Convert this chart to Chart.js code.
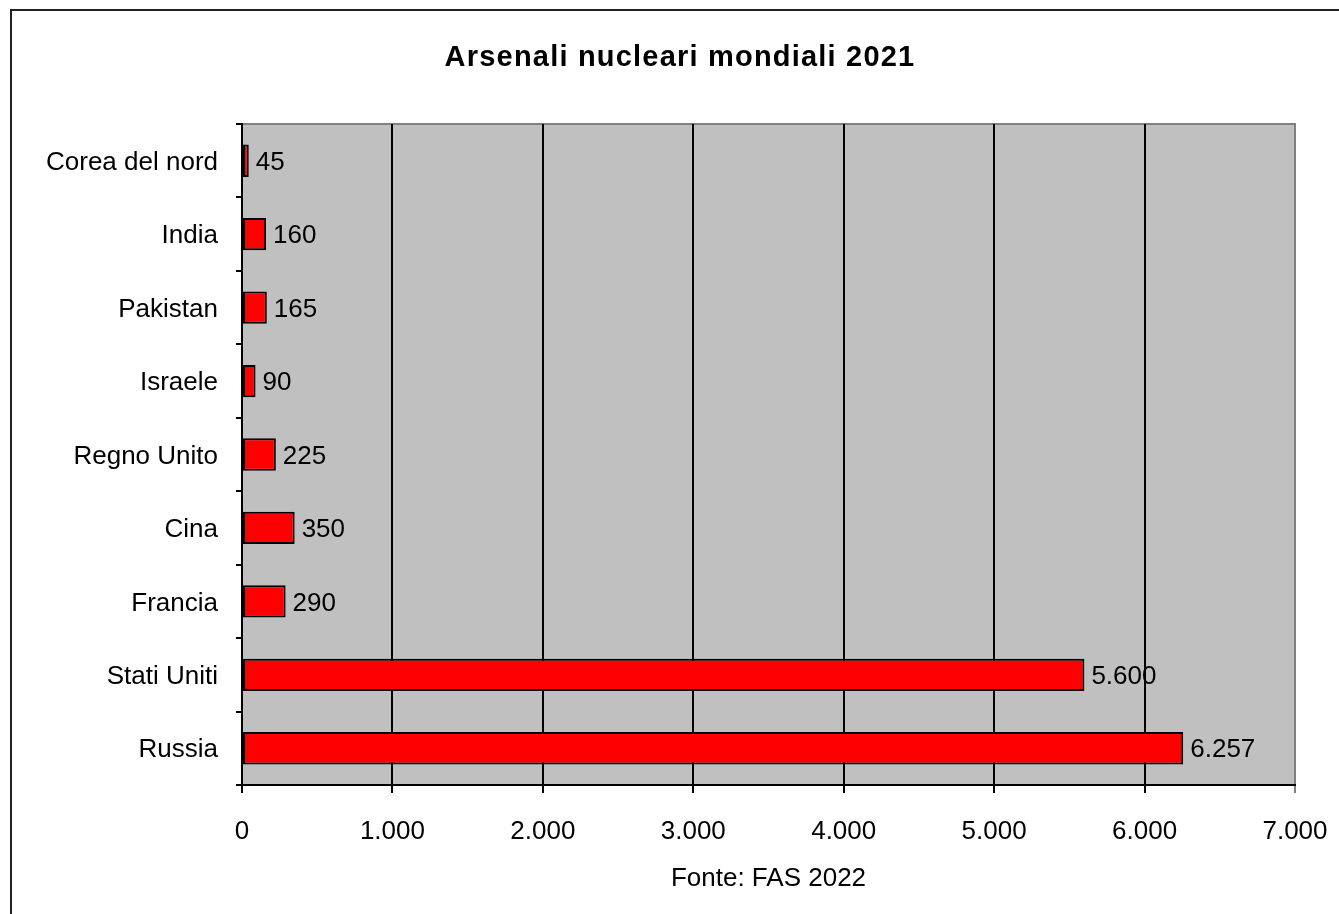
<!DOCTYPE html>
<html>
<head>
<meta charset="utf-8">
<script src="https://cdn.jsdelivr.net/npm/chart.js@4/dist/chart.umd.min.js"></script>
<style>
html,body{margin:0;padding:0;background:#fff;}
canvas{display:block;}
</style>
</head>
<body>
<canvas id="c" width="1339" height="914"></canvas>
<script>
const chartTitle = 'Arsenali nucleari mondiali 2021';
const sourceLabel = 'Fonte: FAS 2022';
const categories = ['Corea del nord','India','Pakistan','Israele','Regno Unito','Cina','Francia','Stati Uniti','Russia'];
const warheads = [45, 160, 165, 90, 225, 350, 290, 5600, 6257];
const axisMin = 0;
const axisMax = 7000;
const axisStep = 1000;

const FONT = "'Liberation Sans', Arial, sans-serif";
const FS = 26;

function fmt(v){
  return String(Math.round(v)).replace(/\B(?=(\d{3})+(?!\d))/g, '.');
}

const decor = {
  id: 'decor',
  beforeDraw(chart){
    const ctx = chart.ctx, a = chart.chartArea;
    ctx.save();
    ctx.fillStyle = '#fff';
    ctx.fillRect(0,0,chart.width,chart.height);
    // outer border
    ctx.strokeStyle = '#222';
    ctx.lineWidth = 2;
    ctx.strokeRect(11,10,1400,1000);
    // plot area
    ctx.fillStyle = '#C0C0C0';
    ctx.fillRect(a.left, a.top, a.right-a.left, a.bottom-a.top);
    ctx.strokeStyle = '#808080';
    ctx.lineWidth = 2;
    ctx.beginPath();
    ctx.moveTo(a.left, a.top); ctx.lineTo(a.right, a.top); ctx.lineTo(a.right, a.bottom);
    ctx.stroke();
    // title
    ctx.fillStyle = '#000';
    ctx.font = 'bold 29px ' + FONT;
    if ('letterSpacing' in ctx) ctx.letterSpacing = '1.2px';
    ctx.textAlign = 'center';
    ctx.textBaseline = 'middle';
    ctx.fillText(chartTitle, 680, 58);
    if ('letterSpacing' in ctx) ctx.letterSpacing = '0px';
    // source label
    ctx.font = FS + 'px ' + FONT;
    ctx.fillText(sourceLabel, (a.left + a.right)/2, 879);
    ctx.restore();
  },
  afterDatasetsDraw(chart){
    const ctx = chart.ctx;
    const meta = chart.getDatasetMeta(0);
    ctx.save();
    ctx.fillStyle = '#000';
    ctx.font = FS + 'px ' + FONT;
    ctx.textAlign = 'left';
    ctx.textBaseline = 'middle';
    meta.data.forEach((bar, i) => {
      ctx.fillText(fmt(warheads[i]), bar.x + 7, bar.y + 2);
    });
    ctx.restore();
  }
};

new Chart(document.getElementById('c'), {
  type: 'bar',
  data: {
    labels: categories,
    datasets: [{
      data: warheads,
      backgroundColor: '#FF0000',
      borderColor: '#000',
      borderWidth: 2,
      borderSkipped: false,
      categoryPercentage: 1,
      barPercentage: 0.44
    }]
  },
  options: {
    indexAxis: 'y',
    responsive: false,
    devicePixelRatio: 1,
    animation: false,
    layout: { padding: { top: 124, right: 44, left: 0, bottom: 0 } },
    plugins: { legend: { display: false }, tooltip: { enabled: false }, title: { display: false } },
    scales: {
      x: {
        min: axisMin, max: axisMax,
        afterFit(s){ s.height = 129; s.paddingRight = 0; s.paddingLeft = 0; },
        ticks: { stepSize: axisStep, color: '#000', font: { family: FONT, size: FS }, padding: 23, callback: v => fmt(v), maxRotation: 0 },
        grid: {
          color: ctx => (ctx.tick && ctx.tick.value === axisMax) ? '#808080' : '#000',
          lineWidth: 2,
          tickLength: 8,
          drawOnChartArea: true
        },
        border: { color: '#000', width: 2 }
      },
      y: {
        afterFit(s){ s.width = 242; s.paddingTop = 0; s.paddingBottom = 0; },
        ticks: { color: '#000', font: { family: FONT, size: FS }, padding: 18, labelOffset: 2 },
        grid: { drawOnChartArea: false, color: '#000', lineWidth: 2, tickLength: 6, offset: true },
        border: { color: '#000', width: 2 }
      }
    }
  },
  plugins: [decor]
});
</script>
</body>
</html>
